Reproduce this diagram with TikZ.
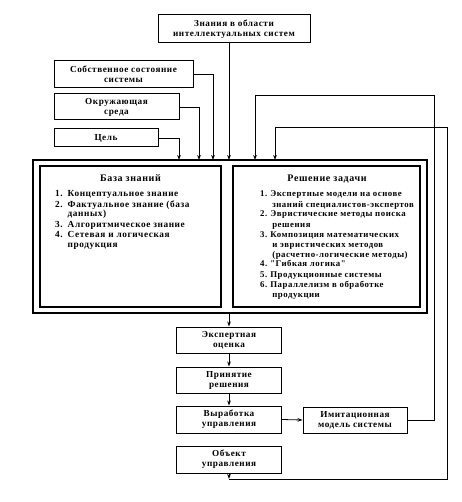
\documentclass[tikz,border=0pt]{standalone}
\usepackage{fontspec}
\setmainfont{Liberation Serif}
\newfontfamily\spfont{Liberation Serif}[LetterSpace=6]
\usetikzlibrary{arrows.meta}
\newcommand\bxfont{\spfont\bfseries\fontsize{9.2}{10}\selectfont}
\newcommand\lsfont{\spfont\bfseries\fontsize{9.3}{10}\selectfont}
\newcommand\rsfont{\spfont\bfseries\fontsize{8.8}{10}\selectfont}
\begin{document}
\begin{tikzpicture}[x=1pt,y=-1pt,
  box/.style={draw, line width=1pt, inner sep=0pt, align=center, font=\bxfont},
  frame/.style={draw, line width=1.2pt, inner sep=0pt},
  arr/.style={-{Stealth[length=5pt,width=3.6pt]}, line width=0.8pt},
  ln/.style={line width=0.8pt},
  title/.style={font=\spfont\bfseries\fontsize{10}{11}\selectfont, inner sep=0pt, anchor=base},
  list/.style={inner sep=0pt, anchor=base west}]
\useasboundingbox (0,0) rectangle (461,502);

% top input boxes
\node[box, minimum width=152, minimum height=28] (top) at (234,29) {Знания в области\\интеллектуальных систем};
\node[box, minimum width=139, minimum height=27] (sob) at (123.5,74.5) {Собственное состояние\\системы};
\node[box, minimum width=125, minimum height=26] (okr) at (116.5,107) {Окружающая\\среда};
\node[box, minimum width=104, minimum height=18] (tsel) at (106,138) {Цель};

% big frame
\node[frame, minimum width=394, minimum height=153] (outer) at (230,236.5) {};
\node[frame, minimum width=181, minimum height=141] (kb) at (130.5,236.5) {};
\node[frame, minimum width=187, minimum height=141] (sol) at (326.5,236.5) {};

\node[title] (kbt) at (130.5,182) {База знаний};
\node[title] (solt) at (327,182) {Решение задачи};

\node[list, font=\lsfont] (kbl) at (55,197) {\begin{tabular}[t]{@{}r@{\hspace{5pt}}l@{}}
1. & Концептуальное знание\\
2. & Фактуальное знание (база\\
   & данных)\\
3. & Алгоритмическое знание\\
4. & Сетевая и логическая\\
   & продукция
\end{tabular}};

\node[list, font=\rsfont] (soll) at (260,197) {\begin{tabular}[t]{@{}r@{\hspace{3pt}}l@{}}
1. & Экспертные модели на основе\\
   & \hspace{2pt}знаний специалистов-экспертов\\
2. & Эвристические методы поиска\\
   & \hspace{2pt}решения\\
3. & Композиция математических\\
   & \hspace{2pt}и эвристических методов\\
   & \hspace{2pt}(расчетно-логические методы)\\
4. & "Гибкая логика"\\
5. & Продукционные системы\\
6. & Параллелизм в обработке\\
   & \hspace{2pt}продукции
\end{tabular}};

% lower chain
\node[box, minimum width=105, minimum height=26] (exp) at (229,340) {Экспертная\\оценка};
\node[box, minimum width=105, minimum height=26] (prin) at (229,380) {Принятие\\решения};
\node[box, minimum width=105, minimum height=27] (vyr) at (229,419.5) {Выработка\\управления};
\node[box, minimum width=105, minimum height=27] (obj) at (229,459.5) {Объект\\управления};
\node[box, minimum width=104, minimum height=26] (imit) at (355,420) {Имитационная\\модель системы};

% entry points on the frame
\coordinate (in1) at (179,160);
\coordinate (in2) at (199,160);
\coordinate (in3) at (213,160);
\coordinate (in4) at (229,160);
\coordinate (in5) at (255,160);
\coordinate (in6) at (275,160);
\coordinate (fb1) at (434,95);
\coordinate (fb2r) at (447,479);
\coordinate (fb2t) at (275,127);
\coordinate (fbj) at (229,479);

\draw[arr] (tsel.east) -| (in1);
\draw[arr] (okr.east) -| (in2);
\draw[arr] (sob.east) -| (in3);
\draw[arr] (top.south -| in4) -- (in4);
\draw[arr] (imit.east) -| (fb1) -| (in5);
\draw[arr] (obj.south) -- (fbj);
\draw[ln] (fbj) -- (fb2r) |- (fb2t);
\draw[arr] (fb2t) -- (in6);

\draw[arr] (exp.north |- outer.south) -- (exp.north);
\draw[arr] (exp.south) -- (prin.north);
\draw[arr] (prin.south) -- (vyr.north);
\draw[arr] (vyr.east) -- (imit.west);
\end{tikzpicture}
\end{document}
